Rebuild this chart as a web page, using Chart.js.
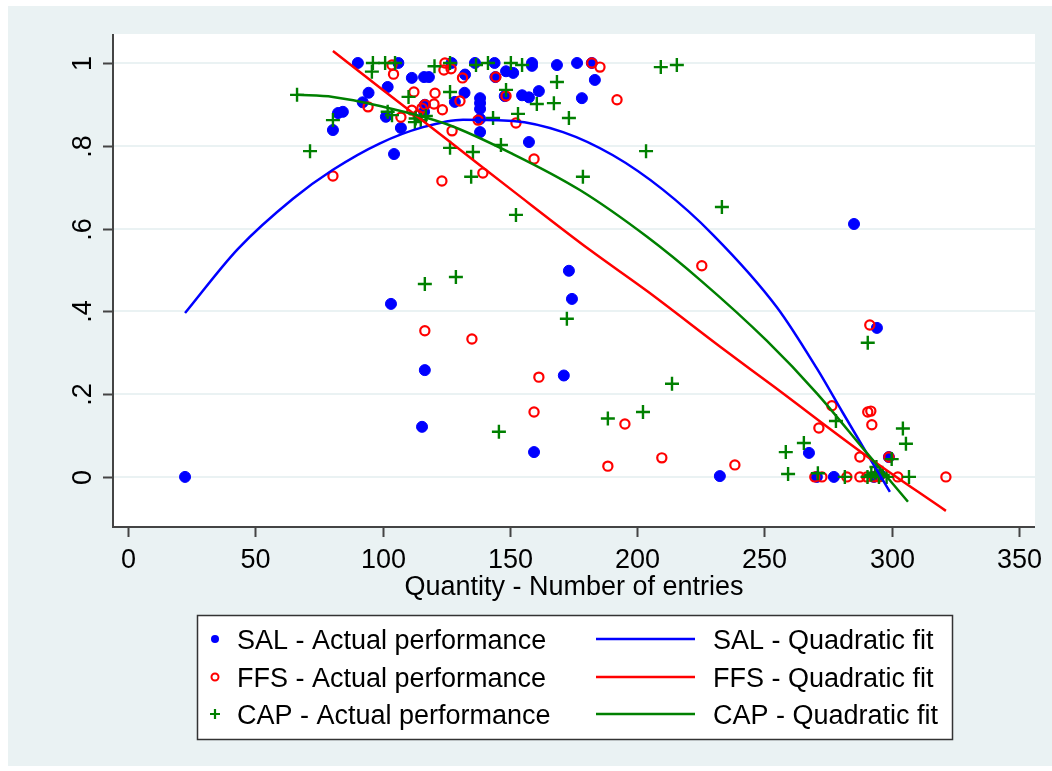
<!DOCTYPE html>
<html>
<head>
<meta charset="utf-8">
<script src="https://cdn.jsdelivr.net/npm/chart.js@4.4.1/dist/chart.umd.min.js"></script>
<style>
  html, body { margin: 0; padding: 0; background: #fff; }
</style>
</head>
<body>
<canvas id="c" width="1052" height="771"></canvas>
<script>
// tick values and labels
const xTicks = [0, 50, 100, 150, 200, 250, 300, 350];
const yTicks = [0, 0.2, 0.4, 0.6, 0.8, 1];
const yTickLabels = ['0', '.2', '.4', '.6', '.8', '1'];

// actual performance, [entries, share]
const salPts = [
  [22.4,0],[80.5,0.838],[82.5,0.879],[84.4,0.882],[90.3,1],[92.2,0.905],[94.5,0.928],
  [101.3,0.87],[102,0.942],[104.5,0.78],[106.2,1],[107.2,0.843],[111.5,0.964],[116.3,0.966],
  [118.2,0.966],[116.6,0.899],[116.3,0.882],[127.1,1],[128.4,0.906],[132.2,0.928],[132.4,0.972],
  [136.3,1],[138.3,0.915],[138.3,0.903],[138.3,0.889],[138.3,0.865],[138.3,0.833],[144,1],
  [144.3,0.966],[148,0.92],[148.5,0.98],[151.3,0.976],[154.8,0.922],[157.5,0.917],[157.5,0.809],
  [158.7,1],[158.7,0.993],[161.4,0.932],[168.5,0.995],[176.4,1],[178.3,0.915],[182.2,1],
  [183.4,0.959],[103.3,0.418],[115.5,0.121],[116.6,0.258],[159.5,0.06],[171.2,0.245],
  [173.2,0.498],[174.4,0.43],[232.5,0.002],[267.5,0.058],[270.6,0],[277.3,0],[285.2,0.611],
  [293,0],[294.2,0.36],[295.5,0.005],[298.9,0.048]
];
const ffsPts = [
  [80.5,0.727],[94.3,0.894],[103.7,0.995],[104.3,0.973],[107.2,0.869],[111.5,0.886],[112.3,0.93],
  [113.9,0.874],[115.5,0.891],[116.6,0.899],[116.6,0.353],[120.2,0.901],[120.6,0.927],[123.3,0.715],
  [123.5,0.887],[124.1,0.983],[124.5,1],[126.9,0.986],[127.3,0.836],[130.4,0.908],[131.4,0.964],
  [135.1,0.333],[137.5,0.862],[139.4,0.734],[144.5,0.966],[148.5,0.92],[152.4,0.855],[159.5,0.768],
  [159.5,0.157],[161.4,0.241],[182.2,1],[185.4,0.99],[188.5,0.026],[192.1,0.911],[195.2,0.128],
  [209.7,0.046],[225.4,0.51],[238.4,0.029],[269.8,0],[271.4,0.118],[272.6,0],[276.5,0.172],
  [282.4,0],[287.5,0.048],[287.5,0],[290.2,0],[290.6,0.157],[291.4,0.367],[291.8,0.159],
  [292.2,0.126],[293,0],[295,0],[298.9,0.048],[302.4,0],[321.3,0]
];
const capPts = [
  [66.4,0.923],[71.5,0.787],[80.5,0.862],[95.8,0.979],[96.2,1],[101,1],[102,0.882],[103.7,0.874],
  [104.9,1],[110.2,0.918],[112.7,0.857],[113,0.866],[115,0.862],[116.6,0.466],[117,0.872],
  [120.4,0.992],[126.5,1],[126.5,0.93],[126.5,0.795],[128.8,0.483],[134.8,0.725],[135.5,0.785],
  [136.7,0.995],[141.4,1],[143.4,0.867],[145.7,0.109],[146.5,0.802],[148.5,0.935],[150.4,1],
  [152.4,0.633],[153.2,0.877],[154.8,0.995],[160.6,0.901],[167.3,0.903],[168.5,0.954],[172.4,0.382],
  [173.2,0.867],[178.7,0.725],[188.5,0.141],[202.3,0.157],[203.5,0.787],[209.3,0.99],[213.7,0.225],
  [215.6,0.995],[233.3,0.652],[258.4,0.06],[259.3,0.007],[265.5,0.082],[271,0.009],[278.1,0.135],
  [281.6,0],[290.6,0.324],[290.5,0],[292,0.005],[293.5,0.01],[294,0.024],[295,0],[296.5,0.005],
  [298,0],[300,0.043],[304.4,0.117],[305.6,0.08],[306.8,0]
];

// quadratic fit curves
const salFit = [
  [22.4,0.396],[43.2,0.551],[64.8,0.672],[80.5,0.742],[99,0.806],[115.9,0.845],[131.6,0.863],
  [151.2,0.86],[170.9,0.833],[190.5,0.777],[210.1,0.694],[229.8,0.585],[254.9,0.41],
  [270.6,0.262],[280.8,0.155],[291.4,0.045],[299.3,-0.036]
];
const ffsFit = [
  [80.5,1.029],[99,0.94],[125.3,0.815],[151.2,0.691],[181.5,0.548],[203.9,0.449],[232.5,0.315],
  [253.3,0.22],[290.2,0.05],[321.3,-0.082]
];
const capFit = [
  [66.4,0.923],[80.5,0.918],[99,0.896],[125.3,0.852],[151.2,0.78],[177.5,0.693],[203.9,0.58],
  [224.7,0.476],[250.9,0.329],[270.6,0.202],[290.2,0.058],[306.4,-0.06]
];

const legendLeft = ['SAL - Actual performance', 'FFS - Actual performance', 'CAP - Actual performance'];
const legendRight = ['SAL - Quadratic fit', 'FFS - Quadratic fit', 'CAP - Quadratic fit'];
const colors = ['#0000ff', '#ff0000', '#008000'];

const FONT = '27px "Liberation Sans", Arial, sans-serif';
const BG = '#eaf2f3';
const AXIS = '#444444';

const toXY = arr => arr.map(p => ({ x: p[0], y: p[1] }));

function drawMarker(ctx, kind, x, y, s) {
  ctx.save();
  if (kind === 0) {
    ctx.fillStyle = colors[0];
    ctx.beginPath(); ctx.arc(x, y, s, 0, Math.PI * 2); ctx.fill();
  } else if (kind === 1) {
    ctx.strokeStyle = colors[1]; ctx.lineWidth = 2;
    ctx.beginPath(); ctx.arc(x, y, s, 0, Math.PI * 2); ctx.stroke();
  } else {
    ctx.strokeStyle = colors[2]; ctx.lineWidth = 2.2;
    ctx.beginPath();
    ctx.moveTo(x - s, y); ctx.lineTo(x + s, y);
    ctx.moveTo(x, y - s); ctx.lineTo(x, y + s);
    ctx.stroke();
  }
  ctx.restore();
}

const stataLook = {
  id: 'stataLook',
  beforeDraw(chart) {
    const { ctx, chartArea: a } = chart;
    ctx.save();
    ctx.fillStyle = '#ffffff';
    ctx.fillRect(0, 0, chart.width, chart.height);
    ctx.fillStyle = BG;
    ctx.fillRect(8, 6, chart.width - 8, 760);
    ctx.fillStyle = '#ffffff';
    ctx.fillRect(a.left, a.top, a.right - a.left, a.bottom - a.top);
    ctx.restore();
  },
  afterDraw(chart) {
    const { ctx, chartArea: a, scales } = chart;
    const sx = scales.x, sy = scales.y;
    ctx.save();
    // axis lines
    ctx.strokeStyle = AXIS;
    ctx.lineWidth = 2;
    ctx.beginPath();
    ctx.moveTo(a.left, a.top); ctx.lineTo(a.left, a.bottom); ctx.lineTo(a.right, a.bottom);
    ctx.stroke();

    ctx.fillStyle = '#000000';
    ctx.font = FONT;
    // x ticks
    ctx.textAlign = 'center';
    ctx.textBaseline = 'alphabetic';
    xTicks.forEach(v => {
      const px = Math.round(sx.getPixelForValue(v)) + 0.5;
      ctx.beginPath(); ctx.moveTo(px, a.bottom); ctx.lineTo(px, a.bottom + 10); ctx.stroke();
      ctx.fillText(String(v), px, 568);
    });
    ctx.fillText('Quantity - Number of entries', (a.left + a.right) / 2, 595);

    // y ticks, rotated labels
    yTicks.forEach((v, i) => {
      const py = Math.round(sy.getPixelForValue(v)) + 0.5;
      ctx.beginPath(); ctx.moveTo(a.left - 10, py); ctx.lineTo(a.left, py); ctx.stroke();
      ctx.save();
      ctx.translate(91, py);
      ctx.rotate(-Math.PI / 2);
      ctx.textAlign = 'center';
      ctx.fillText(yTickLabels[i], 0, 0);
      ctx.restore();
    });

    // legend
    ctx.strokeStyle = '#333333';
    ctx.lineWidth = 1.5;
    ctx.fillStyle = '#ffffff';
    ctx.fillRect(197, 615, 756, 124);
    ctx.strokeRect(197.5, 615.5, 755, 124);
    ctx.fillStyle = '#000000';
    ctx.textAlign = 'left';
    const rowY = [639, 677, 714];
    const baseY = [649, 687, 724];
    const mSize = [4, 3.5, 5];
    for (let i = 0; i < 3; i++) {
      drawMarker(ctx, i, 215, rowY[i], mSize[i]);
      ctx.fillStyle = '#000000';
      ctx.fillText(legendLeft[i], 237, baseY[i]);
      ctx.strokeStyle = colors[i];
      ctx.lineWidth = 2.5;
      ctx.beginPath(); ctx.moveTo(596, rowY[i]); ctx.lineTo(695, rowY[i]); ctx.stroke();
      ctx.fillText(legendRight[i], 713, baseY[i]);
    }
    ctx.restore();
  }
};

const fitStyle = (data, color, order) => ({
  type: 'scatter', data: toXY(data), showLine: true, pointRadius: 0,
  borderColor: color, borderWidth: 2.5, cubicInterpolationMode: 'monotone', order: order, fill: false
});

new Chart(document.getElementById('c').getContext('2d'), {
  type: 'scatter',
  data: {
    datasets: [
      { data: toXY(salPts), pointStyle: 'circle', pointRadius: 5.5, backgroundColor: colors[0],
        borderColor: colors[0], borderWidth: 1, order: 5 },
      { data: toXY(ffsPts), pointStyle: 'circle', pointRadius: 4.6, backgroundColor: 'rgba(0,0,0,0)',
        borderColor: colors[1], borderWidth: 2.2, order: 4 },
      { data: toXY(capPts), pointStyle: 'cross', pointRadius: 7, borderColor: colors[2],
        borderWidth: 2.4, order: 3 },
      fitStyle(salFit, colors[0], 2),
      fitStyle(ffsFit, colors[1], 1),
      fitStyle(capFit, colors[2], 0)
    ]
  },
  options: {
    responsive: false,
    animation: false,
    layout: { padding: { left: 113, top: 34, right: 17, bottom: 244 } },
    plugins: { legend: { display: false }, tooltip: { enabled: false } },
    scales: {
      x: { type: 'linear', min: -5.9, max: 356.3, display: false },
      y: {
        type: 'linear', min: -0.121, max: 1.07,
        afterBuildTicks: s => { s.ticks = yTicks.map(v => ({ value: v })); },
        ticks: { display: false },
        grid: { color: BG, lineWidth: 2, drawTicks: false },
        border: { display: false }
      }
    }
  },
  plugins: [stataLook]
});
</script>
</body>
</html>
